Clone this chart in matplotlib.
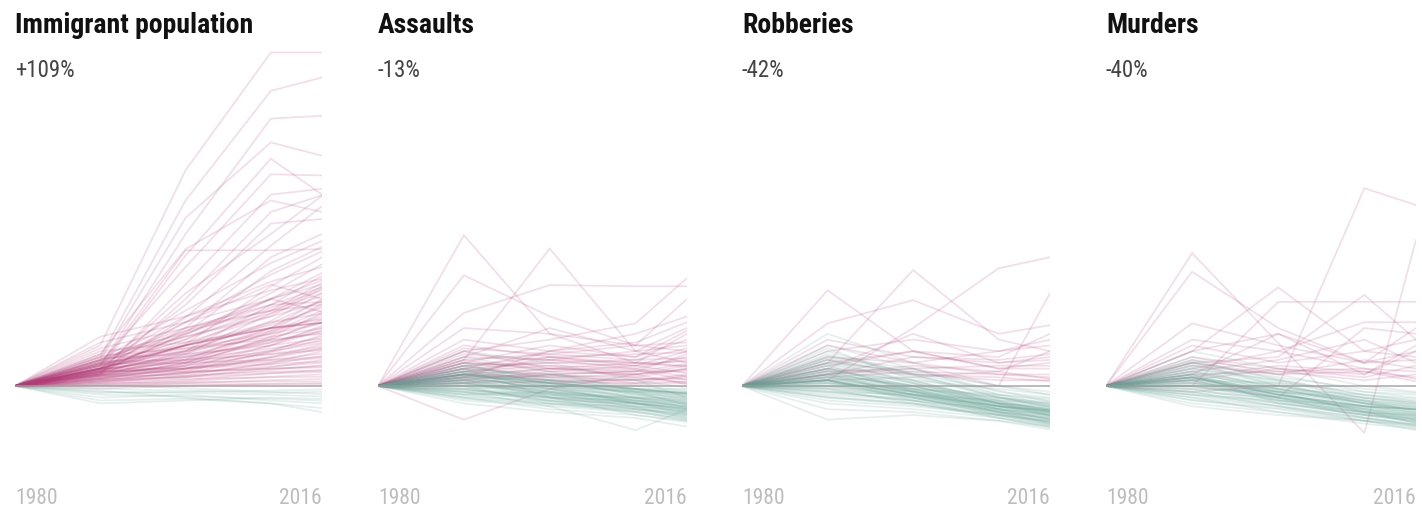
import matplotlib
matplotlib.use("Agg")
import matplotlib.pyplot as plt
from matplotlib import font_manager as fm

# ---------------- data (percent change since 1980; 1980 = 0) ----------------
years = [1980, 1990, 2000, 2010, 2016]
titles = ["Immigrant population", "Assaults", "Robberies", "Murders"]
changes = ["+109%", "-13%", "-42%", "-40%"]
tick_labels = ["1980", "2016"]

# each row: values at 1990, 2000, 2010, 2016
immigrant = [
    [70, 372, 575, 575], [50, 320, 509, 532], [35, 262, 461, 466], [45, 290, 420, 397],
    [30, 225, 392, 330], [40, 205, 365, 363], [22, 175, 330, 340], [20, 150, 300, 329],
    [55, 236, 320, 300], [28, 160, 262, 328], [25, 118, 242, 310], [30, 140, 280, 288],
    [35, 234, 234, 236], [22, 100, 222, 262], [45, 130, 212, 250], [24, 92, 198, 240],
    [30, 110, 192, 232], [20, 72, 172, 222], [40, 120, 180, 205], [28, 88, 160, 210],
    [34, 80, 150, 195], [22, 60, 140, 190], [38, 95, 150, 182], [26, 70, 130, 178],
    [18, 55, 125, 172], [32, 75, 120, 168], [24, 58, 112, 160], [42, 85, 125, 155],
    [18, 45, 100, 150], [30, 62, 108, 147], [14, 40, 95, 142], [26, 55, 100, 138],
    [36, 70, 105, 135], [20, 48, 92, 130], [12, 35, 85, 126], [26, 52, 90, 122],
    [32, 60, 95, 118], [16, 40, 80, 114], [22, 45, 82, 110], [38, 65, 90, 108],
    [12, 30, 70, 104], [24, 42, 75, 100], [18, 38, 70, 96], [28, 50, 78, 92],
    [8, 25, 60, 88], [20, 35, 62, 85], [14, 30, 58, 80], [30, 45, 65, 77],
    [10, 22, 50, 72], [22, 35, 55, 68], [16, 28, 48, 64], [6, 18, 40, 60],
    [18, 30, 45, 56], [12, 22, 38, 52], [24, 32, 42, 48], [8, 15, 32, 45],
    [15, 22, 34, 40], [10, 16, 28, 36], [20, 24, 30, 32], [5, 10, 22, 28],
    [12, 15, 22, 24], [3, 8, 16, 20], [8, 12, 15, 16], [0, 5, 10, 12],
    [5, 6, 8, 8], [-4, 0, 4, 5], [2, 3, 3, 3], [38, 110, 175, 150],
    [28, 90, 150, 128], [45, 100, 140, 145],
    [55, 90, 140, 170], [50, 85, 120, 145], [65, 100, 130, 160], [45, 70, 110, 125],
    [60, 75, 100, 115], [40, 60, 85, 100], [52, 65, 80, 90], [35, 50, 75, 95],
    [48, 55, 70, 82], [30, 40, 60, 74], [42, 45, 55, 62], [25, 30, 50, 66],
    [38, 40, 45, 50], [30, 30, 38, 42], [26, 25, 30, 34], [18, 18, 25, 26],
    [75, 110, 150, 175], [85, 120, 165, 185], [36, 80, 135, 165], [44, 95, 130, 140],
    [-5, -8, -12, -10], [-10, -12, -15, -18], [2, -4, -10, -14], [-15, -18, -22, -25],
    [-20, -15, -25, -30], [-8, -20, -30, -38], [-25, -22, -30, -45], [-12, -10, -8, -6],
    [-30, -25, -20, -22],
]
assaults = [
    [260, 90, 40, 35], [45, 237, 60, 40], [191, 120, 70, 60], [126, 174, 172, 172],
    [60, 80, 108, 186], [-58, -5, 20, 30], [100, 90, 70, 150], [80, 60, 90, 120],
    [50, 100, 60, 100], [70, 50, 40, 90], [40, 70, 50, 80], [30, 60, 75, 110],
    [55, 45, 60, 70], [35, 40, 45, 65], [20, 50, 35, 60], [60, 30, 25, 55],
    [25, 35, 30, 50], [45, 25, 35, 45], [15, 30, 40, 42], [30, 20, 25, 38],
    [10, 25, 20, 35], [40, 35, 15, 30], [20, 15, 20, 28], [5, 20, 25, 25],
    [25, 10, 10, 20], [15, 20, 5, 18], [35, 15, 10, 15], [10, 5, 12, 12],
    [20, 10, 5, 8], [5, 8, 3, 5], [15, 60, 50, 95], [45, 55, 70, 75],
    [30, 40, 35, 22], [50, 45, 30, 16], [20, 30, 28, 10], [65, 55, 45, 48],
    [35, 50, 55, 58], [12, 18, 15, 6], [40, 30, 20, 3], [25, 45, 40, 33],
    [20, 10, -5, -5], [30, 15, 0, -8], [10, 0, -10, -12], [40, 20, -5, -15],
    [15, -5, -15, -18], [5, -10, -20, -20], [25, 5, -10, -22], [-10, -15, -20, -25],
    [35, 10, -15, -25], [0, -5, -20, -28], [20, 0, -20, -30], [-5, -20, -25, -30],
    [10, -10, -25, -32], [50, 25, -10, -33], [-15, -10, -25, -35], [15, -5, -25, -35],
    [30, 5, -20, -38], [5, -15, -30, -38], [-10, -25, -30, -40], [20, -10, -30, -40],
    [0, -20, -35, -42], [-20, -30, -35, -45], [10, -15, -35, -45], [-5, -25, -40, -48],
    [40, 0, -30, -48], [-15, -30, -40, -50], [5, -20, -40, -52], [-25, -35, -45, -55],
    [0, -30, -45, -58], [-10, -35, -76, -40], [-20, -40, -50, -60], [30, -20, -50, -62],
    [-30, -45, -55, -70], [15, 10, -5, -10], [-5, 0, -10, -15], [25, 20, 10, -3],
    [60, 40, 10, -20], [8, -2, -12, -22],
    [12, 2, -8, -10], [18, 6, -12, -16], [22, -2, -18, -24], [-8, -12, -22, -27],
    [28, 8, -14, -29], [6, -8, -22, -31], [-12, -18, -28, -34], [16, -6, -26, -36],
    [2, -14, -30, -39], [-6, -22, -32, -43], [24, -4, -30, -44], [-18, -26, -38, -47],
    [8, -18, -38, -50], [-22, -32, -42, -53], [12, -12, -36, -56], [-2, -26, -44, -59],
    [18, 4, -8, -12], [34, 12, -6, -19], [-14, -20, -30, -37], [4, -12, -28, -41],
]
robberies = [
    [165, 60, 30, 40], [40, 200, 80, 60], [10, 100, 203, 222], [20, 30, 0, 160],
    [108, 148, 90, 105], [60, 80, 60, 70], [80, 50, 40, 50], [30, 90, 40, 45],
    [50, 40, 60, 80], [40, 60, 30, 30], [20, 50, 45, 55], [70, 40, 20, 20],
    [25, 30, 35, 35], [15, 25, 20, 15], [45, 20, 10, 10], [35, 60, 50, 90],
    [10, 15, 25, 60], [30, 20, 15, 8], [20, 35, 25, 12],
    [50, 30, -10, -20], [60, 20, -20, -30], [40, 10, -25, -35], [70, 30, -15, -25],
    [30, 0, -30, -40], [20, -10, -35, -45], [45, 15, -20, -38], [10, -15, -40, -50],
    [25, -5, -35, -48], [0, -20, -45, -55], [35, 5, -30, -45], [15, -10, -40, -52],
    [-10, -25, -45, -55], [5, -20, -50, -60], [30, -5, -40, -58], [-20, -30, -50, -62],
    [20, -15, -45, -65], [-5, -30, -55, -68], [10, -25, -55, -70], [-30, -40, -55, -72],
    [-58, -50, -60, -70], [15, 0, -25, -42], [55, 20, -15, -32], [40, 25, 0, -10],
    [25, 10, -5, -15], [10, -5, -15, -22], [-10, -15, -25, -30], [5, -5, -20, -28],
    [65, 10, -30, -50], [0, -10, -35, -44], [-15, -25, -40, -50], [20, 0, -35, -52],
    [-5, -20, -45, -58], [35, -10, -45, -62], [-25, -35, -50, -66], [15, -5, -30, -40],
    [45, 5, -30, -46], [90, 40, 0, -15], [-40, -45, -60, -75], [5, -10, -30, -36],
    [30, 5, -22, -33], [12, -8, -32, -43], [48, 18, -18, -36], [-4, -18, -38, -47],
    [22, -2, -28, -41], [8, -16, -42, -53], [-12, -22, -42, -57], [38, 8, -26, -44],
    [16, -12, -40, -56], [-8, -26, -48, -61], [26, -8, -38, -49], [2, -18, -44, -59],
    [-18, -30, -50, -64], [52, 22, -8, -27], [18, 2, -20, -34], [-2, -14, -34, -46],
    [10, -20, -48, -63], [28, 0, -32, -51], [-20, -32, -52, -67], [6, -8, -28, -39],
]
murders = [
    [229, 74, -81, 252], [197, 100, 40, 60], [-10, 0, 341, 312], [0, 145, 145, 145],
    [60, 170, 60, 50], [40, 50, 157, 80], [30, 60, 110, 110], [108, 70, 40, 45],
    [50, 30, 20, 60], [20, 90, 40, 100], [70, 40, 60, 80], [35, 20, 45, 30],
    [80, 60, 30, 25], [25, 45, 80, 40], [45, 25, 10, 20], [15, 35, 25, 15],
    [10, -20, 100, 90], [60, 90, 20, 70], [20, 25, 30, 12], [40, 20, 25, 8],
    [10, 30, 15, 35],
    [20, 0, -20, -30], [30, 10, -15, -25], [10, -10, -30, -40], [40, 0, -25, -35],
    [0, -15, -35, -45], [15, -5, -30, -42], [-10, -20, -40, -50], [25, -10, -35, -48],
    [5, -20, -45, -55], [-15, -30, -45, -52], [35, 5, -30, -38], [10, -25, -50, -60],
    [-5, -30, -50, -62], [20, -15, -40, -58], [-20, -35, -55, -65], [0, -25, -45, -50],
    [45, 10, -20, -30], [-25, -40, -60, -70], [15, -20, -55, -68], [-10, -35, -60, -76],
    [30, -5, -25, -44], [5, -10, -25, -32], [-30, -45, -60, -72], [50, 20, -10, -20],
    [10, 5, -10, -15], [-5, -10, -20, -28], [25, 0, -30, -46], [-15, -25, -35, -40],
    [0, -20, -40, -54], [40, 15, -5, -12], [20, -30, -50, -56], [-20, -45, -65, -74],
    [5, -5, -15, -22], [60, 30, 0, -10], [-35, -50, -60, -66], [15, -10, -45, -64],
    [22, -6, -30, -41], [8, -14, -38, -49], [-6, -24, -46, -57], [32, 2, -26, -37],
    [14, -16, -42, -53], [-12, -28, -50, -61], [26, -4, -34, -47], [2, -20, -44, -58],
    [-16, -34, -54, -67], [42, 12, -16, -27], [12, -8, -28, -36], [-2, -18, -38, -51],
    [18, -12, -44, -63], [-24, -38, -56, -69], [6, -22, -48, -59], [36, 8, -22, -33],
]
# national aggregate line for each panel
aggregate = [
    [30, 70, 100, 109],
    [20, 5, -5, -13],
    [10, -15, -35, -42],
    [15, -15, -35, -40],
]
panels = [immigrant, assaults, robberies, murders]

# ---------------- style ----------------
PINK = "#b33c77"
TEAL = "#66a395"
names = {f.name for f in fm.fontManager.ttflist}
narrow = None
for cand in ["Roboto Condensed", "Liberation Sans Narrow", "Open Sans Condensed"]:
    if cand in names:
        narrow = cand
        break
if narrow is None:
    narrow = "DejaVu Sans"

W, H = 1422, 516
fig = plt.figure(figsize=(W / 100, H / 100), dpi=100)

lefts = [15, 378, 742, 1106]
rights = [322, 687, 1050, 1416]
top_px, bot_px, base_px = 40, 470, 386
k = 0.58  # px per percent
ymin = -(bot_px - base_px) / k
ymax = (base_px - top_px) / k

for i, data in enumerate(panels):
    ax = fig.add_axes([lefts[i] / W, 1 - bot_px / H,
                       (rights[i] - lefts[i]) / W, (bot_px - top_px) / H])
    for row in data:
        vals = [0] + row
        c = PINK if vals[-1] >= 0 else TEAL
        ax.plot(years, vals, color=c, alpha=0.17, lw=1.25, solid_joinstyle="miter")
    agg = [0] + aggregate[i]
    ax.plot(years, agg, color=PINK if agg[-1] >= 0 else TEAL, alpha=0.45, lw=1.3)
    ax.axhline(0, color="#9a9a9a", lw=1.2, alpha=0.8, zorder=5)
    ax.set_xlim(1980, 2016)
    ax.set_ylim(ymin, ymax)
    for s in ax.spines.values():
        s.set_visible(False)
    ax.set_yticks([])
    ax.set_xticks([1980, 2016])
    ax.set_xticklabels(tick_labels, family=narrow, fontsize=15.5, color="#bdbdbd")
    ax.tick_params(axis="x", length=0, pad=13)
    labs = ax.get_xticklabels()
    labs[0].set_ha("left")
    labs[1].set_ha("right")
    ax.patch.set_alpha(0)

    fig.text(lefts[i] / W, 1 - 33 / H, titles[i], family=narrow, fontweight="bold",
             fontsize=20, color="#111111", va="baseline", ha="left")
    fig.text(lefts[i] / W, 1 - 77 / H, changes[i], family=narrow,
             fontsize=16.5, color="#444444", va="baseline", ha="left")

fig.savefig("out.png", dpi=100, facecolor="white")
